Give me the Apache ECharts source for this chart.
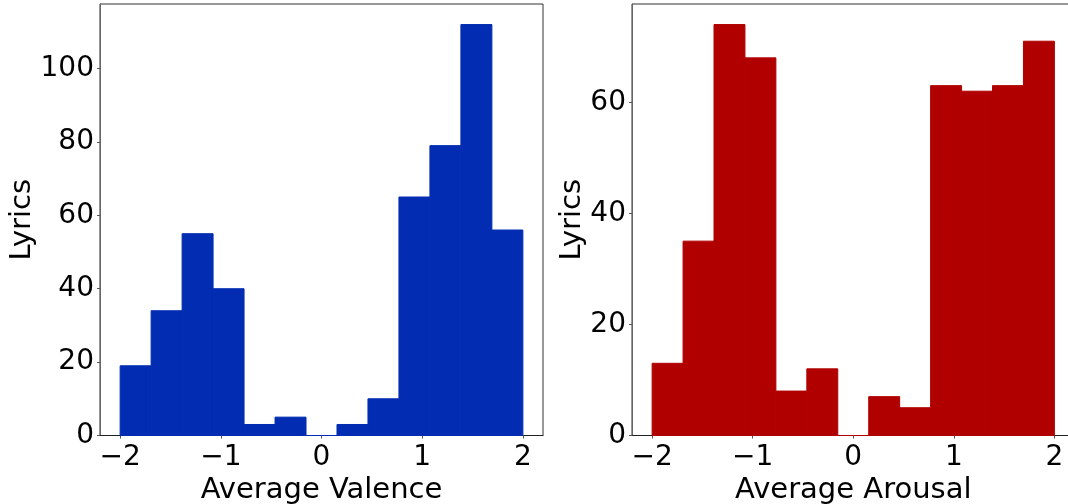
<!DOCTYPE html>
<html>
<head>
<meta charset="utf-8">
<script src="https://cdn.jsdelivr.net/npm/echarts@6/dist/echarts.min.js"></script>
<style>
  html, body { margin: 0; padding: 0; background: #fff; }
  #chart { width: 1068px; height: 504px; }
</style>
</head>
<body>
<div id="chart"></div>
<script>
// histogram counts, 13 equal bins between -2 and 2
var binMin = -2;
var binMax = 2;
var binCount = 13;
var valenceCounts = [19, 34, 55, 40, 3, 5, 0, 3, 10, 65, 79, 112, 56];
var arousalCounts = [13, 35, 74, 68, 8, 12, 0, 7, 5, 63, 62, 63, 71];
var xTicks = [-2, -1, 0, 1, 2];
var valenceYTicks = [0, 20, 40, 60, 80, 100];
var arousalYTicks = [0, 20, 40, 60];

function toBins(counts) {
  var w = (binMax - binMin) / binCount;
  return counts.map(function (c, i) {
    return [binMin + i * w, binMin + (i + 1) * w, c];
  });
}

function minusSign(v) {
  return String(v).replace('-', '\u2212');
}

var font = 'DejaVu Sans';

function makeX(gridIndex, name) {
  return {
    gridIndex: gridIndex,
    type: 'value',
    min: -2.2,
    max: 2.2,
    name: name,
    nameLocation: 'middle',
    nameGap: 35,
    nameTextStyle: { fontFamily: font, fontSize: 29, color: '#000' },
    splitLine: { show: false },
    axisLine: { show: true, onZero: false, lineStyle: { color: '#222', width: 1 } },
    axisTick: { show: true, length: 3, customValues: xTicks, lineStyle: { color: '#555' } },
    axisLabel: {
      customValues: xTicks,
      fontFamily: font, fontSize: 28, color: '#000', margin: 8,
      formatter: function (v) {
        return xTicks.indexOf(v) >= 0 ? minusSign(v) : '';
      }
    }
  };
}

// nameGap differs because matplotlib puts the ylabel past the widest tick label
function makeY(gridIndex, max, ticks, gap) {
  return {
    gridIndex: gridIndex,
    type: 'value',
    min: 0,
    max: max,
    name: 'Lyrics',
    nameLocation: 'middle',
    nameGap: gap,
    nameTextStyle: { fontFamily: font, fontSize: 29, color: '#000' },
    splitLine: { show: false },
    axisLine: { show: true, onZero: false, lineStyle: { color: '#666', width: 1 } },
    axisTick: { show: true, length: 3, customValues: ticks, lineStyle: { color: '#555' } },
    axisLabel: {
      customValues: ticks,
      fontFamily: font, fontSize: 28, color: '#000', margin: 6,
      formatter: function (v) {
        return ticks.indexOf(v) >= 0 ? String(v) : '';
      }
    }
  };
}

function histSeries(idx, counts, color) {
  return {
    type: 'custom',
    xAxisIndex: idx,
    yAxisIndex: idx,
    data: toBins(counts),
    encode: { x: [0, 1], y: 2 },
    renderItem: function (params, api) {
      var p0 = api.coord([api.value(0), api.value(2)]);
      var p1 = api.coord([api.value(1), 0]);
      return {
        type: 'rect',
        shape: { x: p0[0], y: p0[1], width: p1[0] - p0[0], height: p1[1] - p0[1] },
        style: { fill: color, stroke: color, lineWidth: 1 }
      };
    }
  };
}

var chart = echarts.init(document.getElementById('chart'), null, { renderer: 'canvas' });
chart.setOption({
  backgroundColor: '#fff',
  animation: false,
  grid: [
    { left: 100, top: 4, width: 443, height: 431.5, outerBoundsMode: 'none', containLabel: false,
      show: true, borderColor: '#333', borderWidth: 1 },
    { left: 632, top: 4, width: 442.5, height: 431.5, outerBoundsMode: 'none', containLabel: false,
      show: true, borderColor: '#333', borderWidth: 1 }
  ],
  xAxis: [makeX(0, 'Average Valence'), makeX(1, 'Average Arousal')],
  yAxis: [makeY(0, 112 * 1.05, valenceYTicks, 58), makeY(1, 74 * 1.05, arousalYTicks, 42)],
  series: [
    histSeries(0, valenceCounts, '#022db2'),
    histSeries(1, arousalCounts, '#b10000')
  ]
});
</script>
</body>
</html>
